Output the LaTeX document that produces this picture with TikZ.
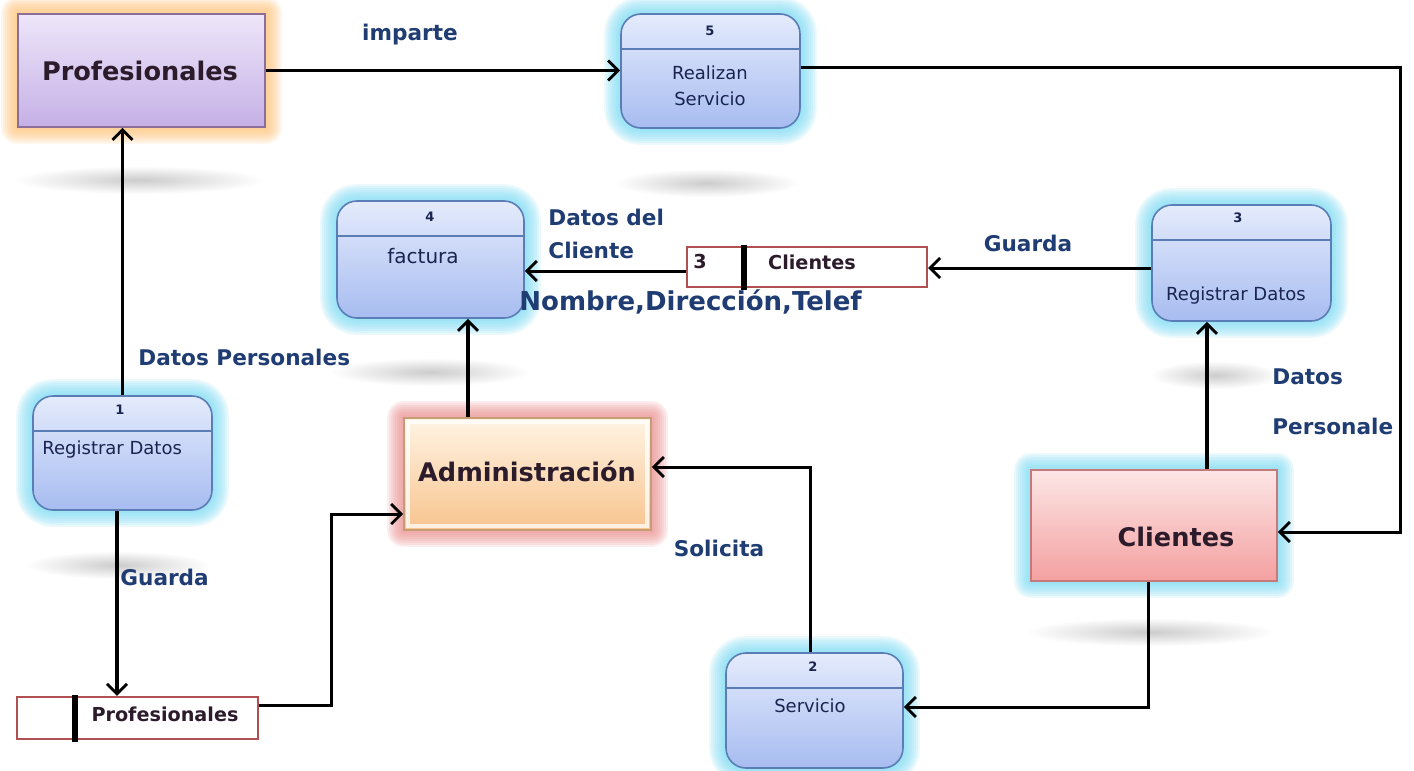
\documentclass[tikz,border=0pt]{standalone}
\usepackage{fontspec}
\setmainfont{DejaVu Sans}
\usetikzlibrary{arrows.meta,backgrounds,calc}

\definecolor{labelblue}{HTML}{1F3C73}
\definecolor{inktext}{HTML}{2B1B2B}
\definecolor{proctext}{HTML}{1A2450}
\definecolor{proctop}{HTML}{E4EBFC}
\definecolor{procbot}{HTML}{A7BCF0}
\definecolor{procedge}{HTML}{5A7DB5}
\definecolor{glowcyan}{HTML}{7EDDF6}
\definecolor{gloworange}{HTML}{FFC47A}
\definecolor{glowred}{HTML}{EE9090}
\definecolor{lilactop}{HTML}{EEE6FA}
\definecolor{lilacbot}{HTML}{C5B0E6}
\definecolor{lilacedge}{HTML}{8B6F9A}
\definecolor{pinktop}{HTML}{FDE6E6}
\definecolor{pinkbot}{HTML}{F4A0A0}
\definecolor{pinkedge}{HTML}{C47A7A}
\definecolor{peachtop}{HTML}{FFF4E4}
\definecolor{peachbot}{HTML}{F8C48E}
\definecolor{storeedge}{HTML}{B05050}

\tikzset{
  flow/.style={line width=1.5pt, -{Straight Barb[length=5pt,width=10pt,line width=1.4pt]}},
  flowthick/.style={flow, line width=2.2pt},
  proc/.style={draw=procedge, line width=0.8pt, rounded corners=10pt,
    top color=proctop, bottom color=procbot, inner sep=0pt},
  entity/.style={line width=0.8pt, inner sep=0pt},
  store/.style={draw=storeedge, line width=1.2pt, fill=white, inner sep=0pt},
  divider/.style={line width=2.6pt, black},
  hdr/.style={draw=procedge, line width=0.8pt},
  pnum/.style={font=\bfseries\fontsize{6.5}{7}\selectfont, text=proctext, inner sep=1pt},
  ptext/.style={font=\fontsize{9}{10}\selectfont, text=proctext, inner sep=1pt},
  enttext/.style={font=\bfseries\fontsize{12.8}{14}\selectfont, text=inktext, inner sep=1pt},
  flowlabel/.style={font=\bfseries\fontsize{10.8}{12}\selectfont, text=labelblue, inner sep=1pt},
  storetext/.style={font=\bfseries\fontsize{9.6}{11}\selectfont, text=inktext, inner sep=1pt},
  floorshade/.style={inner color=black!20, outer color=white},
}

% soft halo around a node
\newcommand{\halo}[3]{%
  \foreach \k in {1,...,8}{%
    \fill[#2, opacity=0.15, rounded corners={#3+\k*1pt}]
      ([shift={({-\k*1pt},{\k*1pt})}]#1.north west) rectangle
      ([shift={({\k*1pt},{-\k*1pt})}]#1.south east);
  }%
}
% faint blurred floor reflection
\newcommand{\floorshade}[3]{%
  \shade[floorshade] ($(#1,#2)+({-#3/2},-14)$) rectangle ($(#1,#2)+({#3/2},14)$);
}

\begin{document}
\begin{tikzpicture}[x=0.5pt,y=-0.5pt]
\useasboundingbox (0,0) rectangle (1414,771);

% floor reflections
\floorshade{140}{180}{250}
\floorshade{707}{183}{185}
\floorshade{430}{372}{200}
\floorshade{1215}{375}{130}
\floorshade{118}{565}{185}
\floorshade{1150}{632}{250}

% external entities
\node[entity, draw=lilacedge, top color=lilactop, bottom color=lilacbot,
      minimum width=123.5pt, minimum height=56.5pt] (ep) at (141.5,70.5) {};
\node[enttext] (eptxt) at (140,71) {Profesionales};

\node[entity, draw=pinkedge, top color=pinktop, bottom color=pinkbot,
      minimum width=123pt, minimum height=55.5pt] (ec) at (1154,525.5) {};
\node[enttext] (ectxt) at (1176,537) {Clientes};

\node[entity, draw=peachbot!80!black, top color=peachtop, bottom color=peachbot,
      minimum width=123.5pt, minimum height=56pt] (adm) at (527.5,474) {};
\draw[white, opacity=0.75, line width=2pt]
  ([shift={(2.5pt,-2.5pt)}]adm.north west) rectangle ([shift={(-2.5pt,2.5pt)}]adm.south east);
\node[enttext] (admtxt) at (527,471) {Administración};

% processes
\node[proc, minimum width=89.5pt, minimum height=57pt] (p5) at (710.5,71) {};
\node[proc, minimum width=93.5pt, minimum height=58.5pt] (p4) at (430.5,259.5) {};
\node[proc, minimum width=89.5pt, minimum height=58pt] (p3) at (1241.5,263) {};
\node[proc, minimum width=89.5pt, minimum height=57pt] (p1) at (122.5,453) {};
\node[proc, minimum width=88.5pt, minimum height=57.5pt] (p2) at (814.5,710.5) {};
\foreach \p in {p5,p4,p3,p1,p2}{
  \draw[hdr] ([yshift=-18pt]\p.north west) -- ([yshift=-18pt]\p.north east);
}

\node[pnum] (n5) at (710,31) {5};
\node[ptext] (t5a) at (710,73) {Realizan};
\node[ptext] (t5b) at (710,99) {Servicio};

\node[pnum] (n4) at (430,217) {4};
\node[ptext, font=\fontsize{10}{11}\selectfont] (t4) at (423,256) {factura};

\node[pnum] (n3) at (1238,218) {3};
\node[ptext] (t3) at (1236,296) {Registrar Datos};

\node[pnum] (n1) at (120,410) {1};
\node[ptext, anchor=west] (t1) at (40,450) {Registrar Datos};

\node[pnum] (n2) at (813,667) {2};
\node[ptext] (t2) at (810,706) {Servicio};

% data stores
\node[store, minimum width=120pt, minimum height=20pt] (st3) at (807,267) {};
\draw[divider] (744,245) -- (744,290);
\node[storetext, anchor=west] (st3n) at (691,262) {3};
\node[storetext] (st3t) at (812,262) {Clientes};

\node[store, minimum width=120.5pt, minimum height=21pt] (stp) at (137.5,718) {};
\draw[divider] (75,695) -- (75,742);
\node[storetext] (stpt) at (165,714) {Profesionales};

% halos behind the boxes
\begin{scope}[on background layer]
  \fill[white] (0,0) rectangle (1414,771);
  \halo{ep}{gloworange}{0}
  \halo{adm}{glowred}{0}
  \halo{ec}{glowcyan}{0}
  \foreach \p in {p5,p4,p3,p1,p2}{\halo{\p}{glowcyan}{10}}
\end{scope}

% data flows
\coordinate (rail) at (1400,0);
\draw[flow] (ep.east) -- (ep.east -| p5.west);
\draw[flow] ([yshift=2pt]p5.east) -| (rail |- ec.east) |- ([yshift=-3.25pt]ec.east);
\draw[flow] ([yshift=-2pt]st3.west) -- ([yshift=-2pt]st3.west -| p4.east);
\draw[flow] ([yshift=-2.5pt]p3.west) -- ([yshift=-2.5pt]p3.west -| st3.east);
\draw[flowthick] ([xshift=-17.25pt]p3.south |- ec.north) -- ([xshift=-17.25pt]p3.south);
\draw[flow] (p1.north) -- (p1.north |- ep.south);
\draw[flowthick] ([xshift=-2.75pt]p1.south) -- ([xshift=-2.75pt]p1.south |- stp.north);
\draw[flow] ([yshift=6.5pt]stp.east) -- ++(36pt,0) |- ([yshift=-20pt]adm.west);
\draw[flowthick] ([xshift=-29.75pt]adm.north) -- ([xshift=-29.75pt]adm.north |- p4.south);
\draw[flow] ([xshift=-2.25pt]p2.north) |- ([yshift=3.5pt]adm.east);
\draw[flow] ([xshift=-3pt]ec.south) |- ([yshift=1.75pt]p2.east);

% flow labels
\node[flowlabel] (limparte) at (410,35) {imparte};
\node[flowlabel, anchor=west] (ldp) at (136,357) {Datos Personales};
\node[flowlabel, anchor=west] (lg1) at (118,577) {Guarda};
\node[flowlabel, anchor=west] (ldc1) at (546,217) {Datos del};
\node[flowlabel, anchor=west] (ldc2) at (546,250) {Cliente};
\node[flowlabel, anchor=west, font=\bfseries\fontsize{13}{14}\selectfont] (lndt) at (517,302) {Nombre,Dirección,Telef};
\node[flowlabel] (lg2) at (1028,243) {Guarda};
\node[flowlabel, anchor=west] (ldp2a) at (1270,377) {Datos};
\node[flowlabel, anchor=west] (ldp2b) at (1270,426) {Personale};
\node[flowlabel] (lsol) at (719,548) {Solicita};
\end{tikzpicture}
\end{document}
